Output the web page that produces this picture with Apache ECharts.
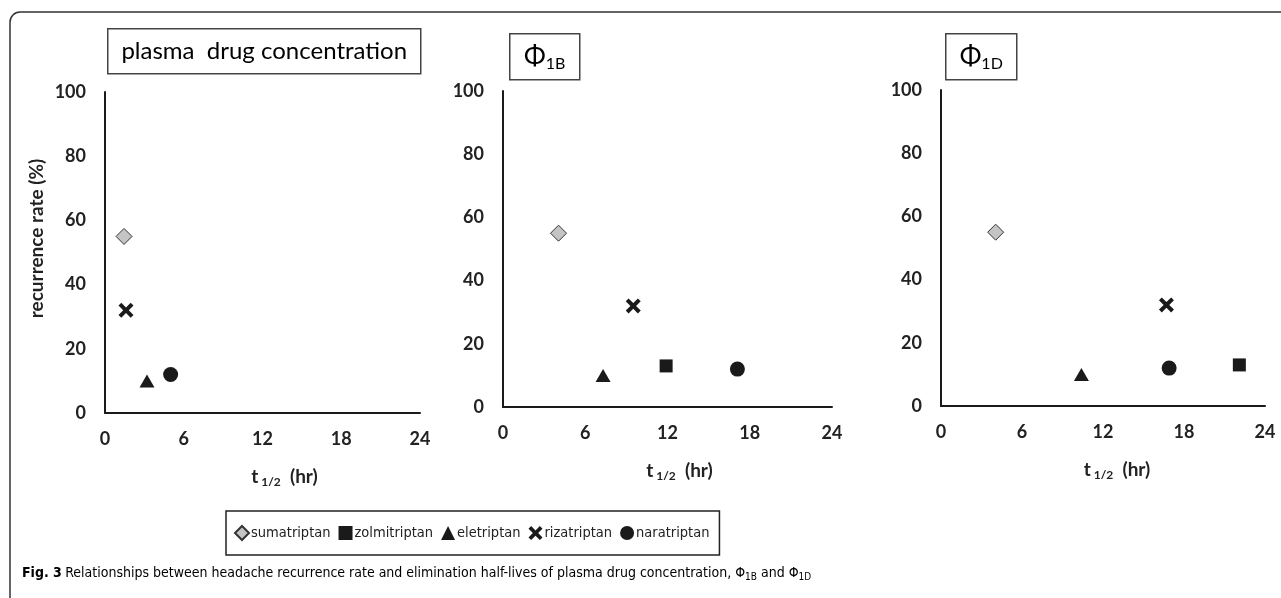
<!DOCTYPE html>
<html>
<head>
<meta charset="utf-8">
<script src="https://cdn.jsdelivr.net/npm/echarts@6/dist/echarts.min.js"></script>
<style>
html,body{margin:0;padding:0;background:#fff;}
#chart{width:1281px;height:598px;}
</style>
</head>
<body>
<div id="chart"></div>
<script>
// ---- data ----
const drugs = ['sumatriptan', 'zolmitriptan', 'eletriptan', 'rizatriptan', 'naratriptan'];
const recurrenceRate = [55, 13, 10, 32, 12];            // %
const halfLifePlasma = [1.45, null, 3.2, 1.6, 5.0];      // hr
const halfLifePhi1B = [4.05, 11.9, 7.3, 9.5, 17.1];      // hr
const halfLifePhi1D = [4.05, 22.1, 10.4, 16.7, 16.9];    // hr
const xTicks = [0, 6, 12, 18, 24];
const yTicks = [0, 20, 40, 60, 80, 100];

// ---- styles ----
const FONT = 'Lato, "Open Sans", sans-serif';
const NARROW = '"Liberation Sans Narrow", "DejaVu Sans Condensed", "Noto Sans", sans-serif';
const INK = '#1a1a1a';
const crossPath = 'path://M3,0 L8,5 L13,0 L16,3 L11,8 L16,13 L13,16 L8,11 L3,16 L0,13 L5,8 L0,3 Z';
const markerStyle = {
  sumatriptan: { symbol: 'diamond', symbolSize: 16, itemStyle: { color: '#c4c4c4', borderColor: '#333', borderWidth: 1, opacity: 1 } },
  zolmitriptan: { symbol: 'rect', symbolSize: 13, itemStyle: { color: INK, opacity: 1 } },
  eletriptan: { symbol: 'triangle', symbolSize: [15, 13], itemStyle: { color: INK, opacity: 1 } },
  rizatriptan: { symbol: crossPath, symbolSize: 15, itemStyle: { color: INK, opacity: 1 } },
  naratriptan: { symbol: 'circle', symbolSize: 15, itemStyle: { color: INK, opacity: 1 } }
};

const panels = [halfLifePlasma, halfLifePhi1B, halfLifePhi1D];
const grids = [
  { left: 105, top: 92, width: 315, height: 321 },
  { left: 503, top: 91, width: 329, height: 316 },
  { left: 941, top: 90, width: 324, height: 316 }
];
const nameShift = [44, 24, 28];

const xAxes = grids.map((g, i) => ({
  type: 'value', gridIndex: i,
  min: xTicks[0], max: xTicks[xTicks.length - 1], interval: xTicks[1] - xTicks[0],
  axisLine: { show: true, lineStyle: { color: INK, width: 2 } },
  axisTick: { show: false }, splitLine: { show: false },
  axisLabel: { margin: 17, fontFamily: FONT, fontWeight: 'bold', fontSize: 18, color: '#222' },
  name: '{a|t}{b| 1/2}{a|  (hr)}',
  nameLocation: 'middle', nameGap: 53,
  nameTextStyle: {
    padding: [0, 0, 0, nameShift[i]],
    rich: {
      a: { fontFamily: FONT, fontWeight: 'bold', fontSize: 19, color: '#222', lineHeight: 22 },
      b: { fontFamily: FONT, fontWeight: 'bold', fontSize: 12, color: '#222', lineHeight: 8, verticalAlign: 'bottom' }
    }
  }
}));

const yAxes = grids.map((g, i) => ({
  type: 'value', gridIndex: i,
  min: yTicks[0], max: yTicks[yTicks.length - 1], interval: yTicks[1] - yTicks[0],
  axisLine: { show: true, lineStyle: { color: INK, width: 2 } },
  axisTick: { show: false }, splitLine: { show: false },
  axisLabel: { margin: 19, fontFamily: FONT, fontWeight: 'bold', fontSize: 18, color: '#222' },
  name: i === 0 ? 'recurrence rate (%)' : '',
  nameLocation: 'middle', nameGap: 59, nameRotate: 90,
  nameTextStyle: { fontFamily: FONT, fontWeight: 'bold', fontSize: 19, color: '#222', padding: [0, 0, 0, 28] }
}));

const series = [];
panels.forEach((hl, p) => {
  drugs.forEach((d, i) => {
    if (hl[i] === null) return;
    series.push(Object.assign({
      type: 'scatter', name: d, xAxisIndex: p, yAxisIndex: p,
      data: [[hl[i], recurrenceRate[i]]],
      emphasis: { disabled: true }
    }, markerStyle[d]));
  });
});

const titleRich = {
  t: { fontFamily: FONT, fontSize: 24, color: '#222' },
  p: { fontFamily: FONT, fontSize: 26, color: '#222', lineHeight: 30 },
  s: { fontFamily: FONT, fontSize: 16, color: '#222', lineHeight: 14, verticalAlign: 'bottom' }
};
function titleBox(x, y, w, h, text) {
  return {
    type: 'group', left: x, top: y,
    children: [
      { type: 'rect', shape: { x: 0, y: 0, width: w, height: h }, style: { fill: '#fff', stroke: '#444', lineWidth: 1.5 } },
      { type: 'text', x: w / 2, y: h / 2, style: { text: text, rich: titleRich, align: 'center', verticalAlign: 'middle' } }
    ]
  };
}

const option = {
  backgroundColor: '#fff',
  animation: false,
  grid: grids,
  xAxis: xAxes,
  yAxis: yAxes,
  series: series,
  legend: {
    data: drugs,
    left: 226, top: 511,
    padding: [14, 10, 14, 8],
    itemGap: 8, itemWidth: 14, itemHeight: 14,
    borderColor: '#222', borderWidth: 1.5,
    textStyle: { fontFamily: NARROW, fontSize: 14.5, color: '#222', padding: [0, 0, 0, -3] },
    selectedMode: false
  },
  graphic: [
    { type: 'rect', shape: { x: 10, y: 12, width: 1400, height: 800, r: [10, 0, 0, 0] }, style: { fill: 'none', stroke: '#333', lineWidth: 1.5 }, silent: true },
    titleBox(107, 28, 313, 45, '{t|plasma  drug concentration}'),
    titleBox(509, 33, 70, 46, '{p|Φ}{s|1B}'),
    titleBox(945, 33, 71, 46, '{p|Φ}{s|1D}'),
    {
      type: 'text', left: 22, top: 566,
      style: {
        text: '{b|Fig. 3} {n|Relationships between headache recurrence rate and elimination half-lives of plasma drug concentration, Φ}{s|1B}{n| and Φ}{s|1D}',
        rich: {
          b: { fontFamily: NARROW, fontWeight: 'bold', fontSize: 14, color: '#222', lineHeight: 18 },
          n: { fontFamily: NARROW, fontSize: 14, color: '#444', lineHeight: 18 },
          s: { fontFamily: NARROW, fontSize: 10, color: '#444', lineHeight: 10, verticalAlign: 'bottom' }
        }
      }
    }
  ]
};

const chart = echarts.init(document.getElementById('chart'), null, { renderer: 'canvas' });
chart.setOption(option);
</script>
</body>
</html>
